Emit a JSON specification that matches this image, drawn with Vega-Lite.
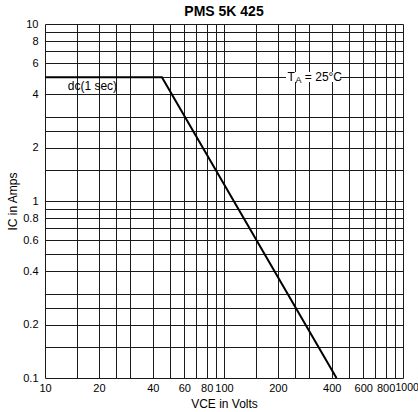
{
  "$schema": "https://vega.github.io/schema/vega-lite/v6.json",
  "autosize": {"type": "none"},
  "padding": {"left": 45, "top": 24, "right": 15, "bottom": 34},
  "width": 358,
  "height": 354,
  "background": "white",
  "title": {"text": "PMS 5K 425", "font": "Liberation Sans", "fontSize": 14, "fontWeight": "bold", "color": "black", "anchor": "middle", "offset": -1},
  "config": {
    "view": {"stroke": null},
    "axis": {
      "grid": true, "gridColor": "#1a1a1a", "gridOpacity": 1, "gridWidth": 1,
      "ticks": false, "domain": false,
      "labelFont": "Liberation Sans", "labelFontSize": 11, "labelColor": "black",
      "titleFont": "Liberation Sans", "titleFontSize": 12, "titleFontWeight": "normal", "titleColor": "black"
    }
  },
  "datasets": {
    "soa": [
      {"vce": 10, "ic": 5},
      {"vce": 45, "ic": 5},
      {"vce": 425, "ic": 0.1}
    ],
    "labels": [
      {"vce": 13.4, "ic": 4.47, "text": "dc(1 sec)"},
      {"vce": 226, "ic": 5, "text": "T"},
      {"vce": 283, "ic": 5, "text": "= 25°C"}
    ],
    "subs": [
      {"vce": 251, "ic": 5, "text": "A"}
    ],
    "box": [
      {"x1": 222, "x2": 445, "y1": 4.7, "y2": 5.35}
    ]
  },
  "layer": [
    {
      "data": {"name": "box"},
      "mark": {"type": "rect", "fill": "white", "stroke": null},
      "encoding": {
        "x": {"field": "x1", "type": "quantitative", "scale": {"type": "log", "domain": [10, 1000], "nice": false},
          "axis": {
            "title": "VCE in Volts", "titlePadding": 5,
            "values": [10,15,20,25,30,40,50,60,70,80,90,100,150,200,250,300,400,500,600,700,800,900,1000],
            "labelExpr": "indexof([10,20,40,60,80,100,200,400,600,800,1000], datum.value) >= 0 ? format(datum.value, 'd') : ''",
            "labelAlign": {"condition": {"test": "datum.value == 1000", "value": "left"}, "value": "center"},
            "labelFontSize": {"condition": {"test": "datum.value == 1000", "value": 10.5}, "value": 11},
            "labelOffset": {"condition": {"test": "datum.value == 1000", "value": -8}, "value": 0},
            "labelPadding": 4, "labelFlush": false, "labelOverlap": false
          }},
        "x2": {"field": "x2"},
        "y": {"field": "y1", "type": "quantitative", "scale": {"type": "log", "domain": [0.1, 10], "nice": false},
          "axis": {
            "title": "IC in Amps", "titlePadding": 3,
            "values": [0.1,0.15,0.2,0.25,0.3,0.4,0.5,0.6,0.7,0.8,0.9,1,1.5,2,2.5,3,4,5,6,7,8,9,10],
            "labelExpr": "indexof([0.1,0.2,0.4,0.6,0.8,1,2,4,6,8,10], datum.value) >= 0 ? format(datum.value, '') : ''",
            "labelPadding": 7, "labelFlush": false, "labelOverlap": false
          }},
        "y2": {"field": "y2"}
      }
    },
    {
      "data": {"name": "soa"},
      "mark": {"type": "line", "color": "black", "strokeWidth": 2},
      "encoding": {
        "x": {"field": "vce", "type": "quantitative"},
        "y": {"field": "ic", "type": "quantitative"}
      }
    },
    {
      "data": {"name": "labels"},
      "mark": {"type": "text", "align": "left", "baseline": "middle", "font": "Liberation Sans", "fontSize": 12, "color": "black"},
      "encoding": {
        "x": {"field": "vce", "type": "quantitative"},
        "y": {"field": "ic", "type": "quantitative"},
        "text": {"field": "text"}
      }
    },
    {
      "data": {"name": "subs"},
      "mark": {"type": "text", "align": "left", "baseline": "middle", "dy": 3, "font": "Liberation Sans", "fontSize": 9, "color": "black"},
      "encoding": {
        "x": {"field": "vce", "type": "quantitative"},
        "y": {"field": "ic", "type": "quantitative"},
        "text": {"field": "text"}
      }
    }
  ]
}
